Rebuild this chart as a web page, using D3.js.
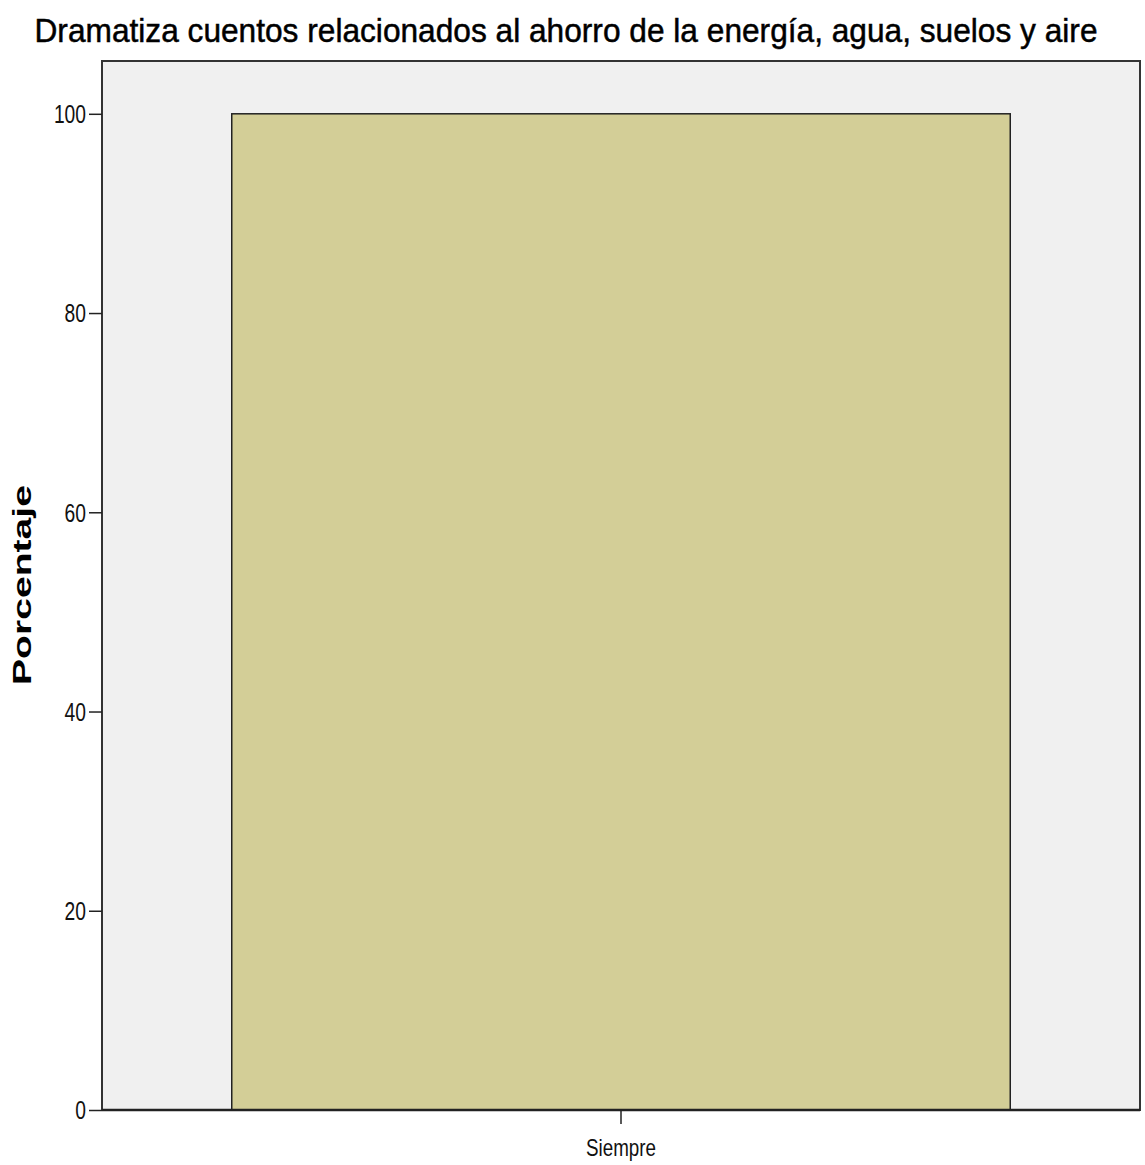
<!DOCTYPE html>
<html><head><meta charset="utf-8">
<script src="https://cdn.jsdelivr.net/npm/d3@7"></script>
<style>body{margin:0;background:#fff}</style>
</head><body>
<svg id="c" width="1145" height="1165"></svg>
<script>
const categories = ["Siempre"];
const values = [100];
const yTicks = [0, 20, 40, 60, 80, 100];
const titleText = "Dramatiza cuentos relacionados al ahorro de la energía, agua, suelos y aire";
const yLabel = "Porcentaje";

const svg = d3.select("#c");
const L = 102, T = 61, R = 1140, B = 1110;
const x = d3.scaleBand().domain(categories).range([L, R]).paddingInner(0).paddingOuter(1/6);
const y = d3.scaleLinear().domain([0, 105.3]).range([B, T]);

svg.append("rect").attr("x", L).attr("y", T).attr("width", R - L).attr("height", B - T)
  .attr("fill", "#f0f0f0").attr("stroke", "#333").attr("stroke-width", 2);

svg.selectAll(".bar").data(values).enter().append("rect")
  .attr("x", (d, i) => x(categories[i]))
  .attr("y", d => y(d))
  .attr("width", x.bandwidth())
  .attr("height", d => y(0) - y(d))
  .attr("fill", "#d3ce97").attr("stroke", "#222").attr("stroke-width", 1.5);

const font = "'Liberation Sans Narrow', 'Arial Narrow', 'Liberation Sans', sans-serif";
const yAxis = svg.append("g").attr("transform", `translate(${L},0)`)
  .call(d3.axisLeft(y).tickValues(yTicks).tickSize(13).tickPadding(3).tickFormat(d3.format("d")));
yAxis.select(".domain").remove();
yAxis.selectAll("line").attr("stroke", "#222").attr("stroke-width", 1.5);
yAxis.selectAll("text").attr("font-family", font).attr("font-size", 25).attr("fill", "#111")
  .attr("dy", "0.35em")
  .attr("textLength", d => String(d).length * 10.7).attr("lengthAdjust", "spacingAndGlyphs");

const xAxis = svg.append("g").attr("transform", `translate(0,${B})`)
  .call(d3.axisBottom(x).tickSize(14).tickPadding(15));
xAxis.select(".domain").remove();
xAxis.selectAll("line").attr("stroke", "#222").attr("stroke-width", 1.5);
xAxis.selectAll("text").attr("font-family", font).attr("font-size", 24).attr("fill", "#111")
  .attr("textLength", 70).attr("lengthAdjust", "spacingAndGlyphs");

svg.append("line").attr("x1", L).attr("x2", R).attr("y1", B).attr("y2", B)
  .attr("stroke", "#222").attr("stroke-width", 2.5);

svg.append("text").attr("x", 566).attr("y", 42).attr("text-anchor", "middle")
  .attr("font-family", font).attr("font-size", 33).attr("fill", "#000")
  .attr("stroke", "#000").attr("stroke-width", 0.5)
  .attr("textLength", 1063).attr("lengthAdjust", "spacingAndGlyphs")
  .text(titleText);

svg.append("text").attr("transform", "translate(31,585) rotate(-90)").attr("text-anchor", "middle")
  .attr("font-family", "'Liberation Sans', Arial, sans-serif").attr("font-weight", "bold")
  .attr("font-size", 26).attr("fill", "#000")
  .attr("textLength", 200).attr("lengthAdjust", "spacingAndGlyphs")
  .text(yLabel);
</script>
</body></html>
